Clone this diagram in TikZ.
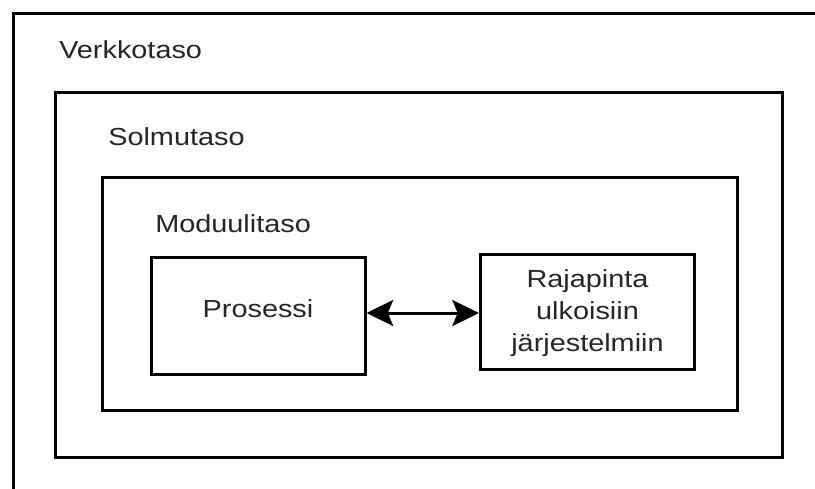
\documentclass[tikz,border=0pt]{standalone}
\usepackage{fontspec}
\setmainfont[FakeStretch=1.17]{Liberation Sans}
\usetikzlibrary{arrows.meta,fit}
\begin{document}
\begin{tikzpicture}[x=0.75pt,y=-0.75pt,
  frame/.style={draw=black,line width=2.25pt},
  box/.style={frame,rectangle,inner sep=0pt},
  lbl/.style={inner sep=0pt,anchor=base west,text=black!85},
  txt/.style={inner sep=0pt,text=black!85,align=center},
  arr/.style={line width=2.25pt,{Stealth[length=20pt,width=19.5pt,inset=4pt]}-{Stealth[length=20pt,width=19.5pt,inset=4pt]}}]
\fontsize{18.5pt}{24pt}\selectfont
\useasboundingbox (0,0) rectangle (815,489);
% network level: open frame running off the right and bottom edges
\coordinate (vb) at (13.5,489);
\coordinate (vc) at (13.5,13.5);
\coordinate (vr) at (815,13.5);
\draw[frame] (vb) -- (vc) -- (vr);
\node[lbl] (verkko) at (59,58) {Verkkotaso};
% node level
\node[box,fit={(55.5,92.5) (782.5,457.5)}] (solmu) {};
\node[lbl] (solmulbl) at (108,145) {Solmutaso};
% module level
\node[box,fit={(102.5,177.5) (737.5,410.5)}] (moduuli) {};
\node[lbl] (moduulilbl) at (155,232) {Moduulitaso};
% process and external interface
\node[box,fit={(151,257) (365,374.5)}] (p) {};
\node[txt,anchor=base] (ptxt) at (258,317) {Prosessi};
\node[box,fit={(480.5,254.5) (694.5,369.5)}] (r) {};
\node[txt,anchor=base] (rtxt) at (587.5,351) {Rajapinta\\ulkoisiin\\järjestelmiin};
\draw[arr] (p.east |- 0,313) -- (r.west |- 0,313);
\end{tikzpicture}
\end{document}
